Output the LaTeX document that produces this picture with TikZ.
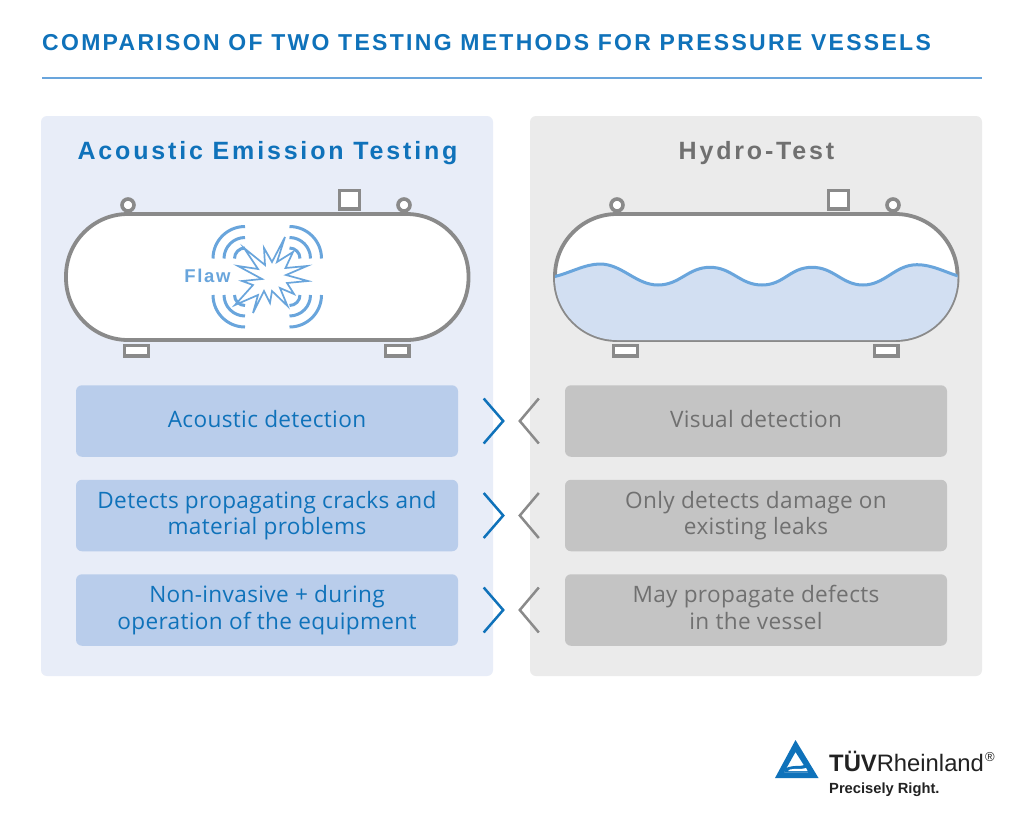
\documentclass[tikz,border=0pt]{standalone}
\usepackage{fontspec}
\setmainfont{Open Sans}
\newfontfamily\titlefont[LetterSpace=10]{Liberation Sans}
\newfontfamily\headfont[LetterSpace=11.3]{Liberation Sans}
\newfontfamily\flawfont[LetterSpace=9]{Liberation Sans}
\newfontfamily\bodyfont[LetterSpace=1.5]{Open Sans}
\newfontfamily\logofont{Liberation Sans}
\definecolor{tblue}{HTML}{0F72BA}
\definecolor{lineblue}{HTML}{69A5DC}
\definecolor{panelL}{HTML}{E8EDF8}
\definecolor{panelR}{HTML}{EBEBEB}
\definecolor{boxL}{HTML}{B9CDEB}
\definecolor{boxR}{HTML}{C4C4C4}
\definecolor{tgrey}{HTML}{707070}
\definecolor{steel}{HTML}{8A8A8A}
\definecolor{water}{HTML}{D2DFF2}
\definecolor{logotext}{HTML}{222222}
\newcommand{\st}{\rule[-6pt]{0pt}{24pt}}
\newcommand{\vesselparts}{%
  \draw[steel,line width=3.6pt,fill=white] (128,205) circle[radius=6pt];
  \draw[steel,line width=3.6pt,fill=white] (404,205) circle[radius=6pt];
  \draw[steel,line width=3.6pt,fill=white] (339.5,190.5) rectangle (359.5,209);
  \draw[steel,line width=3.6pt,fill=white] (124.5,345.5) rectangle (148.5,356);
  \draw[steel,line width=3.6pt,fill=white] (385.5,345.5) rectangle (409,356);
  \draw[steel,line width=3.8pt,fill=white,rounded corners=62pt] (66,214) rectangle (468.5,340);
}
\tikzset{
  x=1pt,y=-1pt,
  panel/.style={rounded corners=6pt,draw=none},
  cellbox/.style={rounded corners=6pt,minimum width=382pt,minimum height=71.5pt,inner sep=0pt,align=center,font=\bodyfont\fontsize{22.6}{26.5}\selectfont},
  lbox/.style={cellbox,fill=boxL,text=tblue},
  rbox/.style={cellbox,fill=boxR,text=tgrey},
  chevL/.style={tblue,line width=2.5pt},
  chevR/.style={steel,line width=2.5pt},
  wavearc/.style={lineblue,line width=3pt},
  star/.style={lineblue,line width=1.7pt,fill=white,line join=miter,miter limit=10},
}
\begin{document}
\begin{tikzpicture}
\useasboundingbox (0,0) rectangle (1024,838);
\fill[white] (0,0) rectangle (1024,838);
\node[anchor=west,inner sep=0pt,text=tblue,font=\titlefont\bfseries\fontsize{23}{26}\selectfont] (title) at (42,43) {COMPARISON OF TWO TESTING METHODS FOR PRESSURE VESSELS};
\coordinate (ruleA) at (42,77.5);
\coordinate (ruleB) at (982,77.5);
\draw[lineblue,line width=2pt] (ruleA) -- (ruleB);
\fill[panelL,panel] (41,116) rectangle (493,676);
\fill[panelR,panel] (530,116) rectangle (982,676);
\node[inner sep=0pt,text=tblue,font=\headfont\bfseries\fontsize{25}{28}\selectfont] (headL) at (267.5,153.5) {Acoustic Emission Testing};
\node[inner sep=0pt,text=tgrey,font=\headfont\bfseries\fontsize{25}{28}\selectfont] (headR) at (756.5,153.5) {Hydro-Test};
% left vessel
\vesselparts
\foreach \cx/\cy/\sa in {245/258.5/180,289.5/258.5/0,245/295/180,289.5/295/0}{
  \foreach \r in {32,21,10.5}{
    \ifdim\cy pt<270pt
      \ifnum\sa=180
        \draw[wavearc] (\cx-\r,\cy) arc[start angle=180,end angle=90,radius=\r pt];
      \else
        \draw[wavearc] (\cx+\r,\cy) arc[start angle=0,end angle=90,radius=\r pt];
      \fi
    \else
      \ifnum\sa=180
        \draw[wavearc] (\cx-\r,\cy) arc[start angle=180,end angle=270,radius=\r pt];
      \else
        \draw[wavearc] (\cx+\r,\cy) arc[start angle=0,end angle=-90,radius=\r pt];
      \fi
    \fi
  }
}
\draw[star] (285,237) -- (277,262) -- (293,252) -- (285.5,268) -- (307,266) -- (286,275) -- (308,281) -- (287,283) -- (294,294) -- (280,288) -- (287.5,306) -- (272,291) -- (270,303) -- (264,291) -- (253,313) -- (258,295) -- (235,305) -- (253,285) -- (242,281) -- (262,279)  -- (238,266) -- (258,269) -- (244,248) -- (265,265) -- (264,248) -- (272,262) -- cycle;
\node[inner sep=0pt,text=lineblue,font=\flawfont\bfseries\fontsize{18.5}{20}\selectfont] (flaw) at (207.5,276) {Flaw};
% right vessel
\begin{scope}[shift={(489,0)}]
\vesselparts
\end{scope}
\begin{scope}
\clip[rounded corners=62pt] (555,214) rectangle (957.5,340);
\fill[water] (554,276.7) .. controls (570,273) and (585,264) .. (600,264)
  .. controls (622,264) and (636,285) .. (658,285)
  .. controls (680,285) and (688,267.3) .. (710,267.3)
  .. controls (732,267.3) and (740,285) .. (762,285)
  .. controls (784,285) and (790,267.3) .. (812,267.3)
  .. controls (834,267.3) and (842,285) .. (863,285)
  .. controls (885,285) and (895,264.7) .. (917,264.7)
  .. controls (932,264.7) and (945,272) .. (958,276)
  -- (958,345) -- (554,345) -- cycle;
\draw[lineblue,line width=3pt] (554,276.7) .. controls (570,273) and (585,264) .. (600,264)
  .. controls (622,264) and (636,285) .. (658,285)
  .. controls (680,285) and (688,267.3) .. (710,267.3)
  .. controls (732,267.3) and (740,285) .. (762,285)
  .. controls (784,285) and (790,267.3) .. (812,267.3)
  .. controls (834,267.3) and (842,285) .. (863,285)
  .. controls (885,285) and (895,264.7) .. (917,264.7)
  .. controls (932,264.7) and (945,272) .. (958,276);
\end{scope}
% boxes
\node[lbox] (l1) at (267,421) {\st Acoustic detection};
\node[lbox] (l2) at (267,515.5) {\st Detects propagating cracks and\\\st material problems};
\node[lbox] (l3) at (267,610) {\st Non-invasive + during\\\st operation of the equipment};
\node[rbox] (r1) at (756,421) {\st Visual detection};
\node[rbox] (r2) at (756,515.5) {\st Only detects damage on\\\st existing leaks};
\node[rbox] (r3) at (756,610) {\st May propagate defects\\\st in the vessel};
% chevrons
\foreach \n in {1,2,3}{
  \draw[chevL] ([shift={(25.5,-22.5)}]l\n.east) -- ([shift={(45,0)}]l\n.east) -- ([shift={(25.5,22.5)}]l\n.east);
  \draw[chevR] ([shift={(-26,-22.5)}]r\n.west) -- ([shift={(-45,0)}]r\n.west) -- ([shift={(-26,22.5)}]r\n.west);
}
% logo
\fill[tblue,even odd rule] (795.5,740) -- (775,778) -- (818.5,778) -- cycle
  (795.5,752) -- (784,772.5) -- (808.5,772.5) -- cycle;
\fill[tblue] (786,768) .. controls (795,764) and (803,768) .. (807,763) -- (810,772.5) -- (784,772.5) -- cycle;
\fill[white] (790,769.5) .. controls (796,768) and (800,770) .. (806,768) -- (807.5,771) -- (788,771) -- cycle;
\node[anchor=base west,inner sep=0pt,text=logotext,font=\logofont\fontsize{23.8}{24}\selectfont] (tuv) at (829,771) {\textbf{TÜV}Rheinland};
\node[anchor=center,inner sep=0pt,text=logotext,font=\logofont\fontsize{13}{14}\selectfont] (reg) at (990,757) {®};
\node[anchor=base west,inner sep=0pt,text=logotext,font=\logofont\bfseries\fontsize{14.7}{16}\selectfont] (right) at (829,793) {Precisely Right.};
\end{tikzpicture}
\end{document}
